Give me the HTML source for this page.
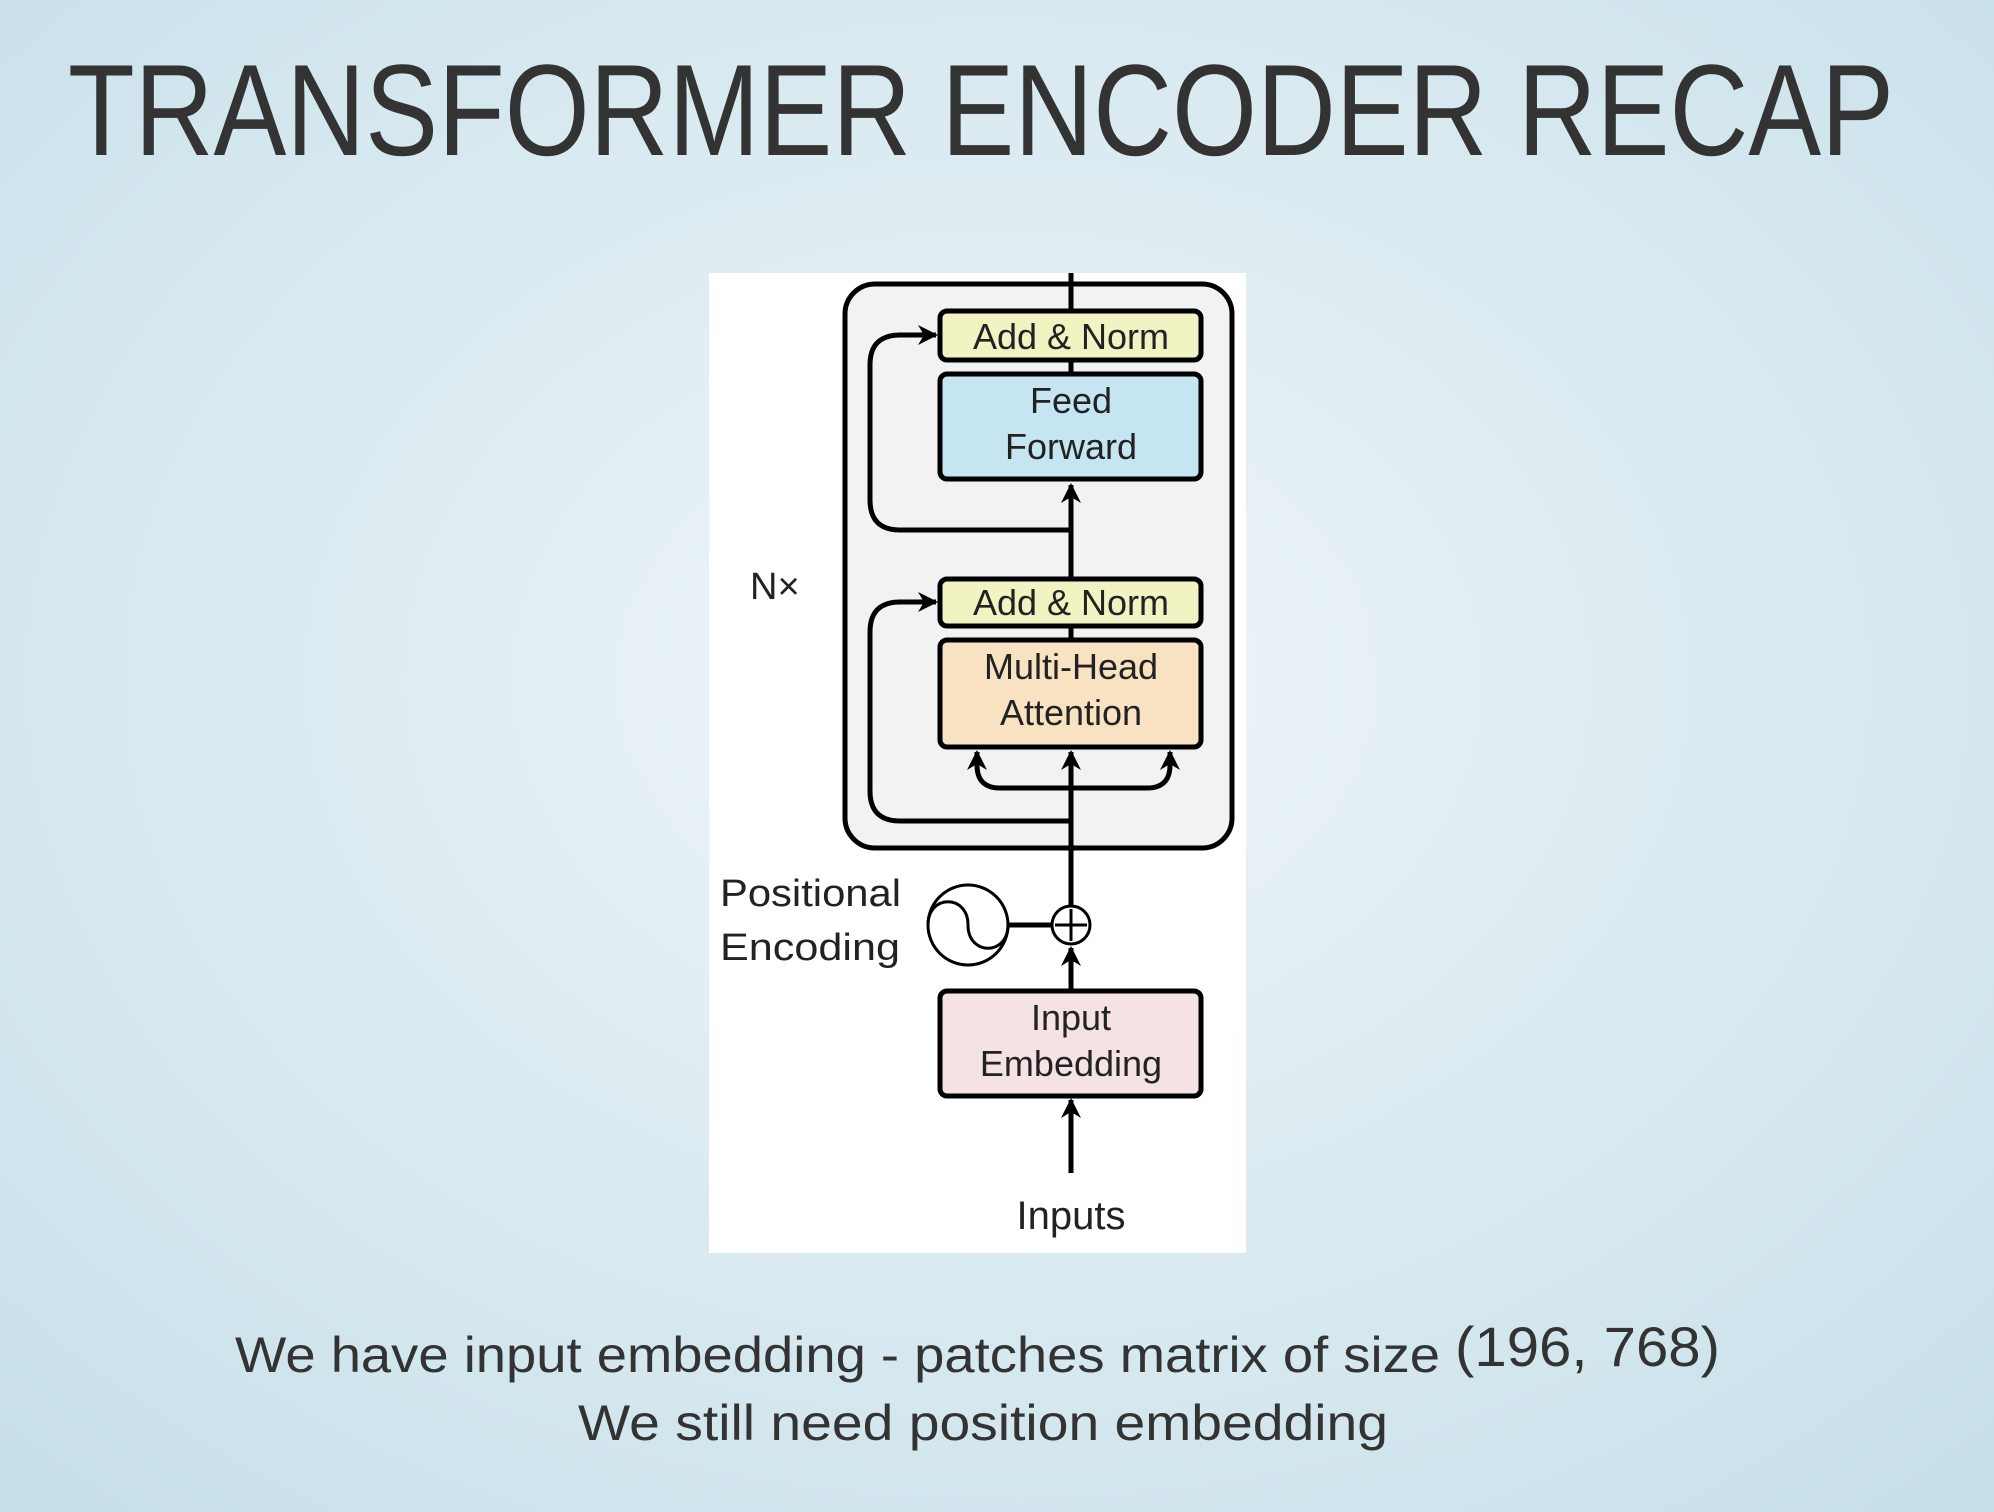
<!DOCTYPE html>
<html><head><meta charset="utf-8"><style>
html,body{margin:0;padding:0;width:1994px;height:1512px;overflow:hidden}
svg{display:block}
</style></head><body>
<svg width="1994" height="1512" viewBox="0 0 1994 1512" xmlns="http://www.w3.org/2000/svg" font-family="Liberation Sans, sans-serif">
<defs>
<radialGradient id="bg" cx="50%" cy="45%" r="75%">
<stop offset="0" stop-color="#f0f6f9"/>
<stop offset="1" stop-color="#c6dfe9"/>
</radialGradient>
<marker id="ah" viewBox="0 0 10 10" refX="9" refY="5" markerWidth="4" markerHeight="4" orient="auto"><path d="M0,0 L10,5 L0,10 L3,5 z" fill="#000"/></marker>
</defs>
<rect width="1994" height="1512" fill="url(#bg)"/>
<text x="68" y="155" font-size="130" fill="#333" textLength="1826" lengthAdjust="spacingAndGlyphs">TRANSFORMER ENCODER RECAP</text>

<rect x="709" y="273" width="537" height="980" fill="#fff"/>
<rect x="845" y="284" width="387" height="564" rx="30" fill="#f2f2f2" stroke="#000" stroke-width="5"/>

<g stroke="#000" stroke-width="5" fill="none">
<line x1="1071" y1="273" x2="1071" y2="310"/>
<line x1="1071" y1="361" x2="1071" y2="373"/>
<line x1="1071" y1="627" x2="1071" y2="639"/>
<line x1="1071" y1="578" x2="1071" y2="485" marker-end="url(#ah)"/>
<line x1="1071" y1="906" x2="1071" y2="752" marker-end="url(#ah)"/>
<path d="M1071,530 H900 Q870,530 870,500 V365 Q870,335 900,335 H936" marker-end="url(#ah)"/>
<path d="M1071,821 H900 Q870,821 870,791 V632 Q870,602 900,602 H936" marker-end="url(#ah)"/>
<path d="M1071,788 H1000 Q977,788 977,765 V752" marker-end="url(#ah)"/>
<path d="M1071,788 H1147 Q1170,788 1170,765 V752" marker-end="url(#ah)"/>
<line x1="1071" y1="990" x2="1071" y2="948" marker-end="url(#ah)"/>
<line x1="1071" y1="1173" x2="1071" y2="1100" marker-end="url(#ah)"/>
<line x1="1007" y1="925" x2="1052" y2="925"/>
</g>

<g stroke="#000" stroke-width="5">
<rect x="940" y="311" width="261" height="49" rx="7" fill="#f1f3c3"/>
<rect x="940" y="374" width="261" height="105" rx="7" fill="#c5e5f3"/>
<rect x="940" y="579" width="261" height="47" rx="7" fill="#f1f3c3"/>
<rect x="940" y="640" width="261" height="107" rx="7" fill="#f9e2c2"/>
<rect x="940" y="991" width="261" height="105" rx="7" fill="#f5e2e3"/>
</g>
<circle cx="1071" cy="925" r="19" fill="#fff" stroke="#000" stroke-width="3"/>
<path d="M1071,909 V941 M1055,925 H1087" stroke="#000" stroke-width="3"/>
<circle cx="968" cy="925" r="40" fill="#fff" stroke="#000" stroke-width="3"/>
<path d="M928,925 C928,894 968,894 968,925 C968,956 1008,956 1008,925" fill="none" stroke="#000" stroke-width="3"/>

<g font-size="36" fill="#222" text-anchor="middle">
<text x="1071" y="349">Add &amp; Norm</text>
<text x="1071" y="413">Feed</text>
<text x="1071" y="459">Forward</text>
<text x="1071" y="615">Add &amp; Norm</text>
<text x="1071" y="679">Multi-Head</text>
<text x="1071" y="725">Attention</text>
<text x="1071" y="1030">Input</text>
<text x="1071" y="1076">Embedding</text>
<text x="1071" y="1229" font-size="40">Inputs</text>
</g>
<text x="750" y="599" font-size="38" fill="#222">N×</text>
<text x="720" y="906" font-size="38" fill="#222" textLength="181" lengthAdjust="spacingAndGlyphs">Positional</text>
<text x="720" y="960" font-size="38" fill="#222" textLength="180" lengthAdjust="spacingAndGlyphs">Encoding</text>

<text x="235" y="1372" font-size="50" fill="#333" textLength="1205" lengthAdjust="spacingAndGlyphs">We have input embedding - patches matrix of size</text>
<text x="1455" y="1366" font-size="56" fill="#333" textLength="265" lengthAdjust="spacingAndGlyphs">(196, 768)</text>
<text x="578" y="1440" font-size="50" fill="#333" textLength="810" lengthAdjust="spacingAndGlyphs">We still need position embedding</text>
</svg>
</body></html>
